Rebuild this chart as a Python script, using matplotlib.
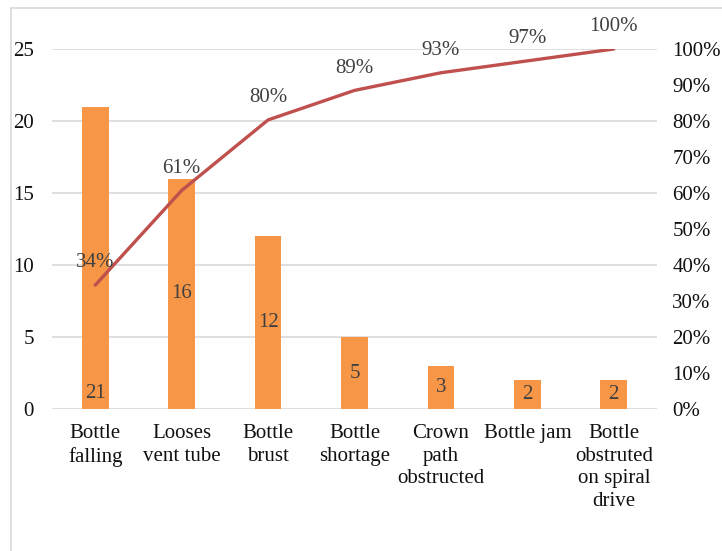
import matplotlib
matplotlib.use('Agg')
import matplotlib.pyplot as plt
from matplotlib.lines import Line2D
from matplotlib.ticker import FuncFormatter

plt.rcParams['font.family'] = ['Liberation Serif', 'DejaVu Serif']

# Pareto data
causes = ['Bottle\nfalling', 'Looses\nvent tube', 'Bottle\nbrust',
          'Bottle\nshortage', 'Crown\npath\nobstructed', 'Bottle jam',
          'Bottle\nobstruted\non spiral\ndrive']
counts = [21, 16, 12, 5, 3, 2, 2]
cum_pct = [34.4, 60.7, 80.3, 88.5, 93.4, 96.7, 100.0]
cum_labels = ['34%', '61%', '80%', '89%', '93%', '97%', '100%']

BAR_COLOR = '#F79646'
LINE_COLOR = '#C0504D'
GRID_COLOR = '#D9D9D9'
LABEL_COLOR = '#404040'
FS = 15

fig = plt.figure(figsize=(7.22, 5.51), dpi=100)
ax = fig.add_axes([52/722., 1 - 409/551., (657-52)/722., (409-49)/551.])
ax2 = ax.twinx()

x = list(range(len(causes)))
ax.bar(x, counts, width=0.31, color=BAR_COLOR, zorder=2)
ax.set_xlim(-0.5, len(causes) - 0.5)
ax.set_ylim(0, 25)
ax.set_yticks(range(0, 26, 5))
ax.grid(axis='y', color=GRID_COLOR, linewidth=1.2, zorder=0)
ax.set_axisbelow(True)
for s in ax.spines.values():
    s.set_visible(False)
for s in ax2.spines.values():
    s.set_visible(False)
ax.tick_params(axis='y', length=0, pad=13, labelsize=FS, labelcolor='#111111')
ax.tick_params(axis='x', length=0, pad=11, labelsize=FS, labelcolor='#111111')
ax.set_xticks(x)
ax.set_xticklabels(causes, linespacing=1.25, va='top')

# bar value labels (first one sits at the bar base)
for i, v in enumerate(counts):
    y = 1.1 if i == 0 else v / 2.
    ax.text(i, y, str(v), ha='center', va='center', fontsize=FS,
            color=LABEL_COLOR, zorder=4)

# cumulative line
ax2.plot(x, cum_pct, color=LINE_COLOR, linewidth=2.4, zorder=3,
         solid_capstyle='round')
ax2.set_ylim(0, 100)
ax2.set_yticks(range(0, 101, 10))
ax2.yaxis.set_major_formatter(FuncFormatter(lambda v, p: '%d%%' % v))
ax2.tick_params(axis='y', length=0, pad=11, labelsize=FS, labelcolor='#111111')
for i, (p, lab) in enumerate(zip(cum_pct, cum_labels)):
    ax2.annotate(lab, (i, p), xytext=(0, 16), textcoords='offset points',
                 ha='center', va='center', fontsize=FS, color=LABEL_COLOR)

# chart frame (only top and left edges visible)
fig.add_artist(Line2D([11/722., 11/722.], [0, 1 - 8/551.],
                      transform=fig.transFigure, color=GRID_COLOR, lw=1.2))
fig.add_artist(Line2D([11/722., 1], [1 - 8/551., 1 - 8/551.],
                      transform=fig.transFigure, color=GRID_COLOR, lw=1.2))

fig.savefig('out.png', dpi=100)
